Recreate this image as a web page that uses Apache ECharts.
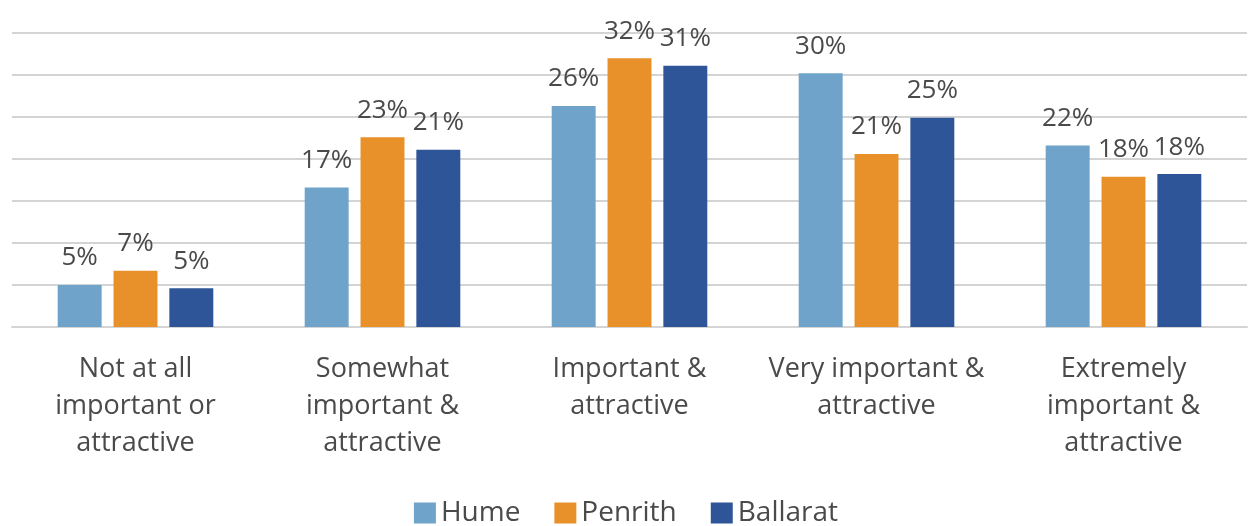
<!DOCTYPE html>
<html><head><meta charset="utf-8">
<script src="https://cdn.jsdelivr.net/npm/echarts@6/dist/echarts.min.js"></script>
<style>html,body{margin:0;padding:0;background:#fff}#c{width:1252px;height:526px}</style>
</head><body><div id="c"></div>
<script>
const categories = ['Not at all\nimportant or\nattractive','Somewhat\nimportant &\nattractive','Important &\nattractive','Very important &\nattractive','Extremely\nimportant &\nattractive'];
const seriesNames = ['Hume','Penrith','Ballarat'];
const hume = [5.0, 16.6, 26.3, 30.2, 21.6];
const penrith = [6.7, 22.6, 32.0, 20.6, 17.9];
const ballarat = [4.6, 21.1, 31.1, 24.9, 18.2];
const colors = ['#6fa3c9','#e8912a','#2e5597'];
const font = '"Open Sans", sans-serif';
const textColor = '#4a4a4a';
const chart = echarts.init(document.getElementById('c'));
const mk = (name, data, i) => ({
  name, type:'bar', data, itemStyle:{color:colors[i]},
  barGap:'27%', barCategoryGap:'37%',
  label:{show:true, position:'top', distance:14, fontFamily:font, fontSize:26, color:textColor,
    formatter:p=>Math.round(p.value)+'%'}
});
chart.setOption({
  animation:false,
  grid:{left:12, right:5, top:33, bottom:199},
  legend:{bottom:-6, left:'center', itemWidth:22, itemHeight:21, itemGap:34, itemStyle:{borderWidth:0}, icon:'rect',
    textStyle:{fontFamily:font, fontSize:28, color:textColor}, data:seriesNames},
  xAxis:{type:'category', data:categories,
    axisLine:{lineStyle:{color:'#d4d4d4', width:2}}, axisTick:{show:false},
    axisLabel:{fontFamily:font, fontSize:27, color:textColor, lineHeight:37, margin:24, interval:0}},
  yAxis:{type:'value', min:0, max:35, interval:5, axisLabel:{show:false}, axisLine:{show:false}, axisTick:{show:false},
    splitLine:{lineStyle:{color:'#d4d4d4', width:2}}},
  series:[mk('Hume',hume,0), mk('Penrith',penrith,1), mk('Ballarat',ballarat,2)]
});
</script></body></html>
